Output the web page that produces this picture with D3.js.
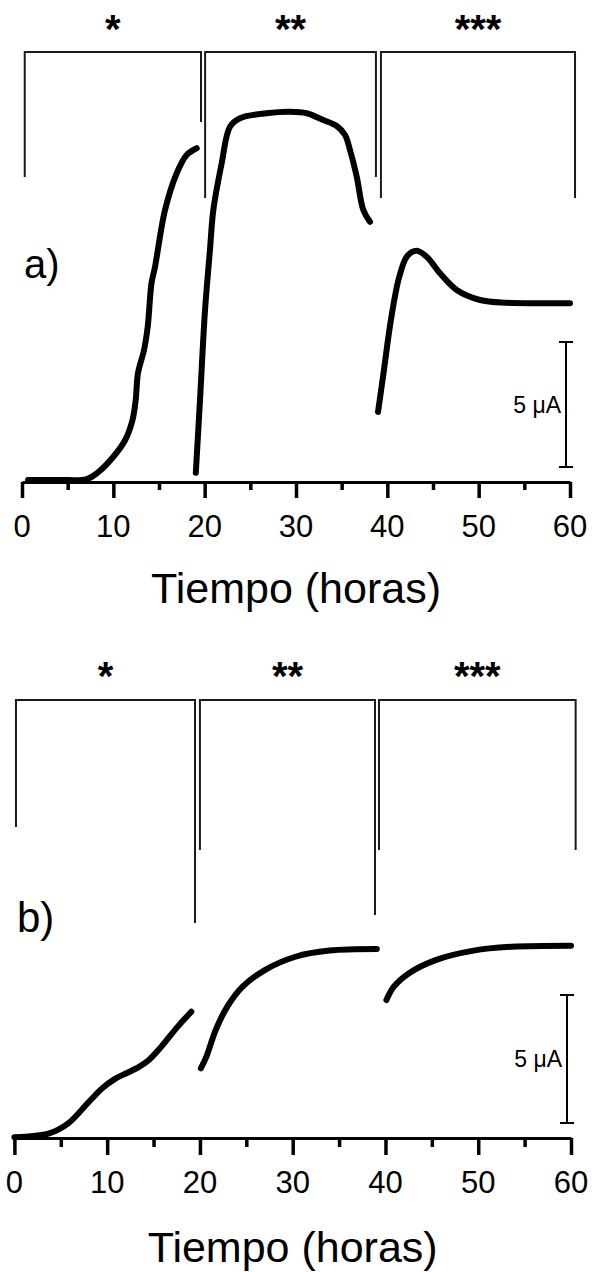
<!DOCTYPE html>
<html>
<head>
<meta charset="utf-8">
<script src="https://cdn.jsdelivr.net/npm/d3@7"></script>
<style>
  html, body { margin: 0; padding: 0; background: #fff; }
  svg { display: block; }
  text { font-family: "Liberation Sans", Arial, Helvetica, sans-serif; fill: #000; }
</style>
</head>
<body>
<svg id="chart" width="594" height="1272"></svg>
<script>
// ---------------- DATA ----------------
const majorTicks = [0, 10, 20, 30, 40, 50, 60];
const minorTicks = [5, 15, 25, 35, 45, 55];
const xTitle = "Tiempo (horas)";
const stageLabels = ["*", "**", "***"];
const panelLabels = ["a)", "b)"];
const scaleBarValue = 5;
const scaleBarText = "5 \u03bcA";

// Panel a) — current (µA) vs time (h), three stages
const aStage1 = [[0.66,0.08],[4.2,0.08],[7.1,0.12],[8.4,0.41],[10.0,1.01],[11.3,1.68],[12.1,2.48],[12.45,3.28],[12.7,4.36],[13.36,5.28],[13.76,6.2],[14.18,7.96],[14.56,8.6],[15.66,10.88],[16.94,12.35],[18.03,13.08],[19.13,13.35]];
const aStage2 = [[19.03,0.37],[19.49,3.28],[20.04,6.88],[20.58,9.28],[20.95,10.88],[21.87,12.76],[22.77,14.21],[23.87,14.55],[26.79,14.75],[29.34,14.81],[31.17,14.75],[32.99,14.48],[34.46,14.24],[35.37,13.88],[35.91,13.28],[36.65,12.21],[37.37,10.88],[38.1,10.41]];
const aStage3 = [[38.98,2.8],[39.6,4.4],[40.4,6.5],[41.3,8.2],[42.2,9.05],[43.22,9.25],[44.31,9.01],[45.77,8.35],[47.6,7.68],[50.15,7.28],[53.07,7.17],[56.71,7.15],[60,7.15]];

// Panel b)
const bStage1 = [[0,0.03],[3.75,0.18],[5.8,0.57],[8.0,1.4],[9.5,1.95],[10.8,2.3],[12.0,2.52],[13.3,2.75],[14.5,3.05],[15.8,3.55],[17.6,4.35],[19.07,4.93]];
const bStage2 = [[20.1,2.72],[20.7,3.18],[21.7,4.22],[22.95,5.13],[24.6,5.91],[27.0,6.56],[30.3,7.08],[33.97,7.32],[39.07,7.38]];
const bStage3 = [[40.1,5.39],[40.9,5.91],[42.5,6.43],[45.4,6.95],[49.5,7.32],[53.6,7.47],[60,7.51]];

// Stage brackets (time spans, h)
const aBrackets = [[0.3,19.6],[20.05,38.75],[39.3,60.55]];
const bBrackets = [[0.17,19.47],[20.0,38.87],[39.3,60.5]];

// ---------------- DRAWING ----------------
const svg = d3.select("#chart");
const FONT_AX = 31, FONT_TITLE = 43;

function drawPanel(p) {
  const g = svg.append("g");
  const x = d3.scaleLinear().domain([0, 60]).range(p.xRange);
  const y = d3.scaleLinear().domain([0, 10]).range([p.axisY, p.axisY - 10 * p.pxPerUnit]);

  // brackets
  p.brackets.forEach((b, i) => {
    const x0 = x(b[0]), x1 = x(b[1]);
    const legs = p.legBottoms[i];
    g.append("path")
      .attr("d", `M${x0},${legs[0]}V${p.bracketTop}H${x1}V${legs[1]}`)
      .attr("fill", "none").attr("stroke", "#1a1a1a").attr("stroke-width", 2);
    g.append("text")
      .attr("x", (x0 + x1) / 2).attr("y", p.starBase)
      .attr("text-anchor", "middle").attr("font-size", 40).attr("font-weight", "bold")
      .text(stageLabels[i]);
  });

  // axis
  const axis = d3.axisBottom(x).tickValues(majorTicks).tickSize(p.majorLen).tickSizeOuter(0).tickPadding(6);
  const ag = g.append("g").attr("transform", `translate(0,${p.axisY})`).call(axis);
  ag.select(".domain").attr("stroke", "#000").attr("stroke-width", 3);
  ag.selectAll(".tick line").attr("stroke", "#000").attr("stroke-width", 3.5);
  ag.selectAll(".tick text").remove();
  const minor = d3.axisBottom(x).tickValues(minorTicks).tickSize(p.minorLen).tickSizeOuter(0).tickFormat("");
  const mg = g.append("g").attr("transform", `translate(0,${p.axisY})`).call(minor);
  mg.select(".domain").remove();
  mg.selectAll(".tick line").attr("stroke", "#000").attr("stroke-width", 3.5);

  g.selectAll(null).data(majorTicks).join("text")
    .attr("x", d => x(d)).attr("y", p.tickBase)
    .attr("text-anchor", "middle").attr("font-size", FONT_AX)
    .text(d => d);

  g.append("text")
    .attr("x", (p.xRange[0] + p.xRange[1]) / 2).attr("y", p.titleBase)
    .attr("text-anchor", "middle").attr("font-size", FONT_TITLE)
    .text(xTitle);

  // curves
  const line = d3.line().x(d => x(d[0])).y(d => y(d[1])).curve(d3.curveCatmullRom.alpha(0.5));
  p.series.forEach(s => {
    g.append("path").attr("d", line(s))
      .attr("fill", "none").attr("stroke", "#000").attr("stroke-width", 6)
      .attr("stroke-linecap", "round").attr("stroke-linejoin", "round");
  });

  // scale bar
  const sb0 = y(p.sbBase), sb1 = y(p.sbBase + scaleBarValue);
  g.append("path")
    .attr("d", `M${p.sbX},${sb0}V${sb1}M${p.sbX - 7},${sb0}H${p.sbX + 7}M${p.sbX - 7},${sb1}H${p.sbX + 7}`)
    .attr("fill", "none").attr("stroke", "#000").attr("stroke-width", 2);
  g.append("text")
    .attr("x", p.sbX - 5).attr("y", (sb0 + sb1) / 2 + 8)
    .attr("text-anchor", "end").attr("font-size", 23)
    .text(scaleBarText);

  // panel label
  g.append("text").attr("x", p.labelX).attr("y", p.labelY)
    .attr("font-size", p.labelSize).text(p.label);
}

drawPanel({
  xRange: [22, 570], axisY: 482, pxPerUnit: 25,
  brackets: aBrackets, bracketTop: 52,
  legBottoms: [[177, 122], [198, 177], [198, 198]],
  starBase: 43, majorLen: 16, minorLen: 8,
  tickBase: 537, titleBase: 603,
  series: [aStage1, aStage2, aStage3],
  sbX: 566, sbBase: 0.6,
  label: panelLabels[0], labelX: 24, labelY: 278, labelSize: 40
});

drawPanel({
  xRange: [14.4, 571], axisY: 1138, pxPerUnit: 25.6,
  brackets: bBrackets, bracketTop: 700,
  legBottoms: [[827, 923], [850, 915], [850, 850]],
  starBase: 690, majorLen: 17, minorLen: 9,
  tickBase: 1193, titleBase: 1262,
  series: [bStage1, bStage2, bStage3],
  sbX: 567, sbBase: 0.59,
  label: panelLabels[1], labelX: 17, labelY: 932, labelSize: 42
});
</script>
</body>
</html>
